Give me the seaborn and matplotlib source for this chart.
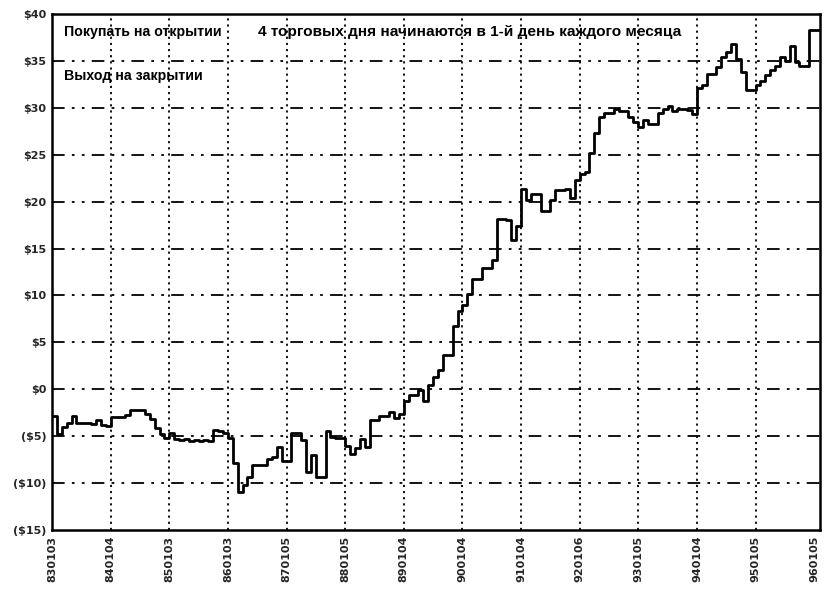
import numpy as np
import pandas as pd
import matplotlib
matplotlib.use("Agg")
import matplotlib.pyplot as plt
import seaborn as sns

# Monthly closing equity (USD) of the strategy, January 1983 onward
equity = [
    -2.8, -4.8, -4.0, -3.6, -2.9, -3.6, -3.6, -3.6, -3.7, -3.3, -3.85, -3.9,      # 1983
    -2.95, -2.95, -2.95, -2.7, -2.2, -2.2, -2.2, -2.6, -3.2, -4.1, -4.8, -5.2,    # 1984
    -4.7, -5.3, -5.4, -5.3, -5.5, -5.4, -5.5, -5.4, -5.5, -4.3, -4.4, -4.7,       # 1985
    -5.2, -7.9, -11.0, -10.2, -9.4, -8.1, -8.1, -8.1, -7.4, -7.2, -6.1, -7.6,    # 1986
    -7.6, -4.7, -4.7, -5.4, -8.8, -7.0, -9.4, -9.4, -4.4, -5.1, -5.2, -5.2,      # 1987
    -6.0, -6.9, -6.3, -5.25, -6.1, -3.3, -3.3, -2.9, -2.9, -2.4, -3.1, -2.6,     # 1988
    -1.3, -0.6, -0.6, -0.1, -1.3, 0.5, 1.3, 2.1, 3.7, 3.7, 6.7, 8.3,             # 1989
    9.0, 10.2, 11.8, 11.8, 12.9, 12.9, 13.8, 18.2, 18.2, 18.0, 15.9, 17.4,       # 1990
    21.3, 20.2, 20.8, 20.8, 19.0, 19.0, 20.2, 21.2, 21.2, 21.4, 20.4, 22.3,      # 1991
    22.9, 23.2, 25.2, 27.3, 29.0, 29.4, 29.4, 29.9, 29.7, 29.7, 29.0, 28.5,      # 1992
    27.95, 28.7, 28.3, 28.3, 29.4, 29.9, 30.2, 29.7, 29.9, 29.9, 29.8, 29.3,     # 1993
    32.1, 32.4, 33.6, 33.6, 34.3, 35.4, 35.9, 36.8, 35.2, 33.8, 31.9, 31.9,      # 1994
    32.4, 32.9, 33.5, 34.0, 34.5, 35.4, 35.0, 36.6, 34.9, 34.5, 34.5, 38.3,      # 1995
    38.3, 38.3,                                                                   # 1996
]

year_labels = ["830103", "840104", "850103", "860103", "870105", "880105", "890104",
               "900104", "910104", "920106", "930105", "940104", "950105", "960105"]
tick_years = list(range(1983, 1997))

y_ticks = [-15, -10, -5, 0, 5, 10, 15, 20, 25, 30, 35, 40]

title_left = "Покупать на открытии"
title_right = "4 торговых дня начинаются в 1-й день каждого месяца"
exit_note = "Выход на закрытии"


def money(v):
    return f"(${abs(v)})" if v < 0 else f"${v}"


df = pd.DataFrame({
    "t": 1983 + np.arange(len(equity)) / 12.0,
    "equity": equity,
})

sns.set_theme(style="white")
plt.rcParams["font.family"] = ["DejaVu Sans"]

fig = plt.figure(figsize=(8.34, 5.99), dpi=100)
ax = fig.add_axes([0.0624, 0.1152, 0.9208, 0.8614])

sns.lineplot(data=df, x="t", y="equity", ax=ax, color="black", linewidth=2.0,
             drawstyle="steps-post", estimator=None)

ax.set_xlim(1983.0, 1996.1)
ax.set_ylim(-15, 40)

ax.set_xticks(tick_years)
ax.set_xticklabels(year_labels, rotation=90, fontsize=8, fontweight="bold")
ax.set_yticks(y_ticks)
ax.set_yticklabels([money(v) for v in y_ticks], fontsize=8, fontweight="bold")
ax.tick_params(axis="both", length=0, pad=4)
ax.set_xlabel("")
ax.set_ylabel("")

# Vertical dotted year lines and dash-dot dollar lines
for yr in tick_years[1:-1]:
    ax.axvline(yr, color="black", linewidth=1.3, linestyle=(0, (1.2, 2.2)), zorder=1)
for v in y_ticks[1:-1]:
    ax.axhline(v, color="black", linewidth=1.3,
               linestyle=(0, (7, 4, 1.5, 4, 1.5, 4)), zorder=1)

for side in ax.spines.values():
    side.set_color("black")
    side.set_linewidth(1.8)

font_text = ["Liberation Sans", "DejaVu Sans"]
ax.text(0.0156, 0.966, title_left, transform=ax.transAxes, ha="left", va="center",
        fontsize=10.2, fontweight="bold", family=font_text, color="black")
ax.text(0.268, 0.966, title_right, transform=ax.transAxes, ha="left", va="center",
        fontsize=11.1, fontweight="bold", family=font_text, color="black")
ax.text(0.0156, 0.879, exit_note, transform=ax.transAxes, ha="left", va="center",
        fontsize=10.2, fontweight="bold", family=font_text, color="black")

fig.savefig("out.png", dpi=100, facecolor="white")
